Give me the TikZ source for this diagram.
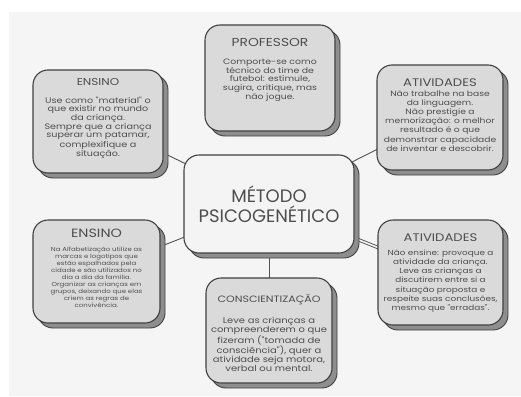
\documentclass[tikz,border=0pt]{standalone}
\usepackage{fontspec}
\setmainfont{Poppins}
\newfontfamily\cardfont[FakeStretch=1.2]{Poppins}
\usepackage{tikz}
\usetikzlibrary{shadows,calc,positioning}
\definecolor{bggray}{HTML}{F5F5F5}
\definecolor{cardfill}{HTML}{DADADA}
\definecolor{midfill}{HTML}{F4F4F4}
\definecolor{shadowgray}{HTML}{8E8E8E}
\definecolor{edgegray}{HTML}{404040}
\definecolor{inkgray}{HTML}{4E4E4E}
\pgfdeclarelayer{bg}
\pgfdeclarelayer{lines}
\pgfsetlayers{bg,lines,main}
\newcommand\fsz[2]{\cardfont\fontsize{#1}{#2}\selectfont}
\tikzset{
  card/.style={draw=edgegray, line width=1.1pt, fill=cardfill, rounded corners=15pt,
    inner sep=0pt,
    general shadow={fill=shadowgray, draw=edgegray, line width=0.9pt,
      shadow xshift=5pt, shadow yshift=-5pt}},
  midcard/.style={card, fill=midfill},
  title/.style={text=inkgray, font=\fsz{11}{12}, inner sep=0pt},
  body/.style={text=inkgray, align=center, inner sep=0pt, font=\fsz{7.6}{9}},
  link/.style={draw=edgegray!90, line width=0.9pt}
}
\begin{document}
\begin{tikzpicture}[x=1pt,y=-1pt]
\useasboundingbox (0,0) rectangle (521,396);
\begin{pgfonlayer}{bg}
  \fill[white] (0,0) rectangle (521,396);
  \fill[bggray] (9,12) rectangle (521,396);
\end{pgfonlayer}
% cards
\node[midcard, minimum width=170pt, minimum height=98pt] (metodo) at (269,204) {};
\node[card, minimum width=130pt, minimum height=106pt] (prof) at (270,78) {};
\node[card, minimum width=130pt, minimum height=103pt] (ensA) at (98,121.5) {};
\node[card, minimum width=126pt, minimum height=105pt] (ativA) at (440,117.5) {};
\node[card, minimum width=127pt, minimum height=103pt] (ensB) at (96.5,271.5) {};
\node[card, minimum width=126pt, minimum height=105pt] (consc) at (269,330.5) {};
\node[card, minimum width=125pt, minimum height=105pt] (ativB) at (440.5,272.5) {};
% texts
\node[text=inkgray, align=center, inner sep=0pt, font=\fontsize{18}{20}\selectfont]
  (metodoT) at (metodo.center) {MÉTODO\\PSICOGENÉTICO};
\node[title, font=\fsz{11.5}{12}] (profT) at (270,42) {PROFESSOR};
\node[body, font=\fsz{7.8}{8.8}] (profB) at (270,80.2) {Comporte-se como\\técnico do time de\\futebol: estimule,\\sugira, critique, mas\\não jogue.};
\node[title, font=\fsz{10}{12}] (ensAT) at (98,82) {ENSINO};
\node[body, font=\fsz{8}{8.1}] (ensAB) at (98,127.7) {Use como "material" o\\que existir no mundo\\da criança.\\Sempre que a criança\\superar um patamar,\\complexifique a\\situação.};
\node[title] (ativAT) at (440,83) {ATIVIDADES};
\node[body, font=\fsz{7.6}{9.2}] (ativAB) at (440,121) {Não trabalhe na base\\da linguagem.\\Não prestigie a\\memorização: o melhor\\resultado é o que\\demonstrar capacidade\\de inventar e descobrir.};
\node[title, font=\fsz{12}{14}] (ensBT) at (96.5,233) {ENSINO};
\node[body, font=\fsz{5.8}{7.05}] (ensBB) at (96.5,277.5) {Na Alfabetização utilize as\\marcas e logotipos que\\estão espalhados pela\\cidade e são utilizados no\\dia a dia da família.\\Organizar as crianças em\\grupos, deixando que elas\\criem as regras de\\convivência.};
\node[title, font=\fsz{9.2}{11}] (conscT) at (269,300) {CONSCIENTIZAÇÃO};
\node[body, font=\fsz{8.3}{9}] (conscB) at (269,344.2) {Leve as crianças a\\compreenderem o que\\fizeram ("tomada de\\consciência"), quer a\\atividade seja motora,\\verbal ou mental.};
\node[title] (ativBT) at (440.5,238) {ATIVIDADES};
\node[body, font=\fsz{7.4}{9.2}] (ativBB) at (440.5,281) {Não ensine: provoque a\\atividade da criança.\\Leve as crianças a\\discutirem entre si a\\situação proposta e\\respeite suas conclusões,\\mesmo que "erradas".};
% connectors
\begin{pgfonlayer}{lines}
  \draw[link] (metodo.center) -- (ensA.center);
  \draw[link] (metodo.center) -- (ativA.center);
  \draw[link] (metodo.center) -- (ensB.center);
  \draw[link] (metodo.center) -- (consc.center);
  \draw[link, double=bggray, double distance=1.6pt] (metodo.center) -- (ativB.center);
\end{pgfonlayer}
\end{tikzpicture}
\end{document}
